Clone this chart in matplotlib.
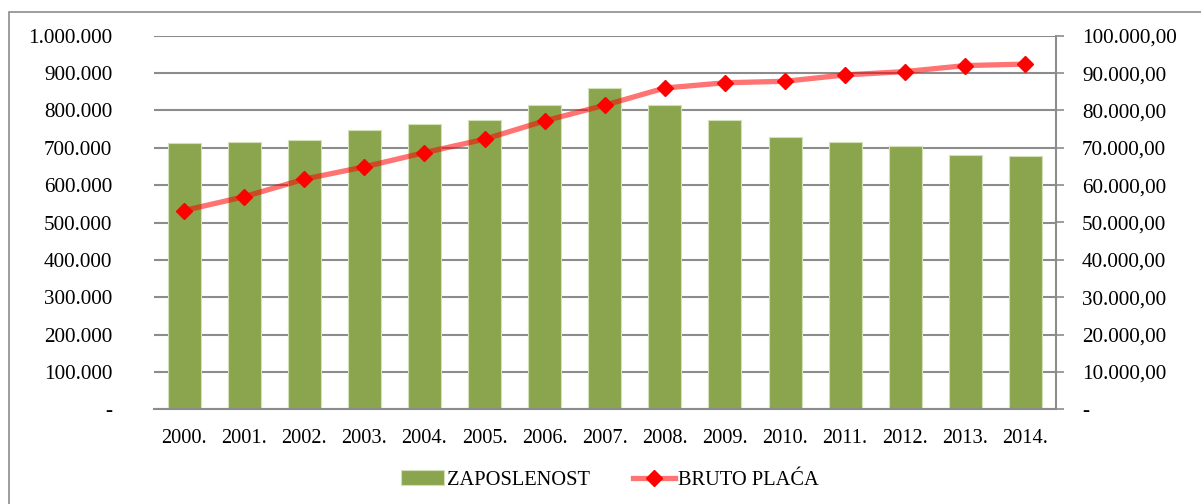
import matplotlib
matplotlib.use("Agg")
import matplotlib.pyplot as plt
import matplotlib.ticker as mticker
from matplotlib.patches import Rectangle
import numpy as np

plt.rcParams["font.family"] = ["Liberation Serif", "DejaVu Serif"]
plt.rcParams["font.size"] = 14.7

years = ["2000.", "2001.", "2002.", "2003.", "2004.", "2005.", "2006.", "2007.",
         "2008.", "2009.", "2010.", "2011.", "2012.", "2013.", "2014."]
zaposlenost = [712000, 716000, 721000, 747000, 764000, 774000, 815000, 859000,
               815000, 774000, 729000, 716000, 704000, 681000, 677000]
bruto_placa = [53200, 56900, 61600, 64900, 68700, 72300, 77200, 81400,
               86000, 87400, 87800, 89500, 90400, 92000, 92400]

GREEN = "#8AA54E"
GRID = "#8C8C8C"


def fmt_left(v, pos):
    if v == 0:
        return "-"
    return f"{v:,.0f}".replace(",", ".")


def fmt_right(v, pos):
    if v == 0:
        return "-"
    s = f"{v:,.2f}"
    return s.replace(",", "X").replace(".", ",").replace("X", ".")


fig = plt.figure(figsize=(12.01, 5.04), dpi=100)
ax = fig.add_axes([154 / 1201, 1 - 409.3 / 504, (1055.5 - 154) / 1201, (409.3 - 35.7) / 504])
x = np.arange(len(years))

bars = ax.bar(x, zaposlenost, width=0.55, color=GREEN, edgecolor="#D3E0B8",
              linewidth=0.8, zorder=2, label="ZAPOSLENOST")
ax.set_xlim(-0.5, len(years) - 0.5)
ax.set_ylim(0, 1000000)
ax.yaxis.set_major_locator(mticker.MultipleLocator(100000))
ax.yaxis.set_major_formatter(mticker.FuncFormatter(fmt_left))
ax.grid(axis="y", color=GRID, linewidth=1.5, zorder=0)
ax.set_axisbelow(True)
ax.set_xticks(x)
ax.set_xticklabels(years)
ax.tick_params(axis="x", length=0, pad=14)
ax.tick_params(axis="y", length=0, pad=30, labelsize=15.2)
for side in ["top", "left", "right"]:
    ax.spines[side].set_visible(False)
ax.spines["bottom"].set_color(GRID)
ax.spines["bottom"].set_linewidth(1.5)

ax2 = ax.twinx()
line, = ax2.plot(x, bruto_placa, color=(1, 0, 0, 0.55), linewidth=3.8,
                 marker="D", markersize=7.8, markerfacecolor="#FF0000",
                 markeredgecolor="#FF0000", zorder=3, label="BRUTO PLAĆA")
ax2.set_ylim(0, 100000)
ax2.yaxis.set_major_locator(mticker.MultipleLocator(10000))
ax2.yaxis.set_major_formatter(mticker.FuncFormatter(fmt_right))
ax2.tick_params(axis="y", length=6, width=1.2, color=GRID, pad=13, labelsize=15.2)
for side in ["top", "left", "bottom"]:
    ax2.spines[side].set_visible(False)
ax2.spines["right"].set_color(GRID)
ax2.spines["right"].set_linewidth(1.5)

fig.legend(handles=[bars, line], loc="center", bbox_to_anchor=(610 / 1201, 1 - 480 / 504),
           ncol=2, frameon=False, handlelength=2.1, handletextpad=0.15,
           columnspacing=2.1, borderpad=0)

# chart area border, running off the right and bottom edges
fig.patches.append(Rectangle((8.5 / 1201, -0.1), 1.2, 1.1 - 12 / 504,
                             transform=fig.transFigure, fill=False,
                             edgecolor="#8C8C8C", linewidth=1.2))

fig.savefig("out.png", dpi=100)
